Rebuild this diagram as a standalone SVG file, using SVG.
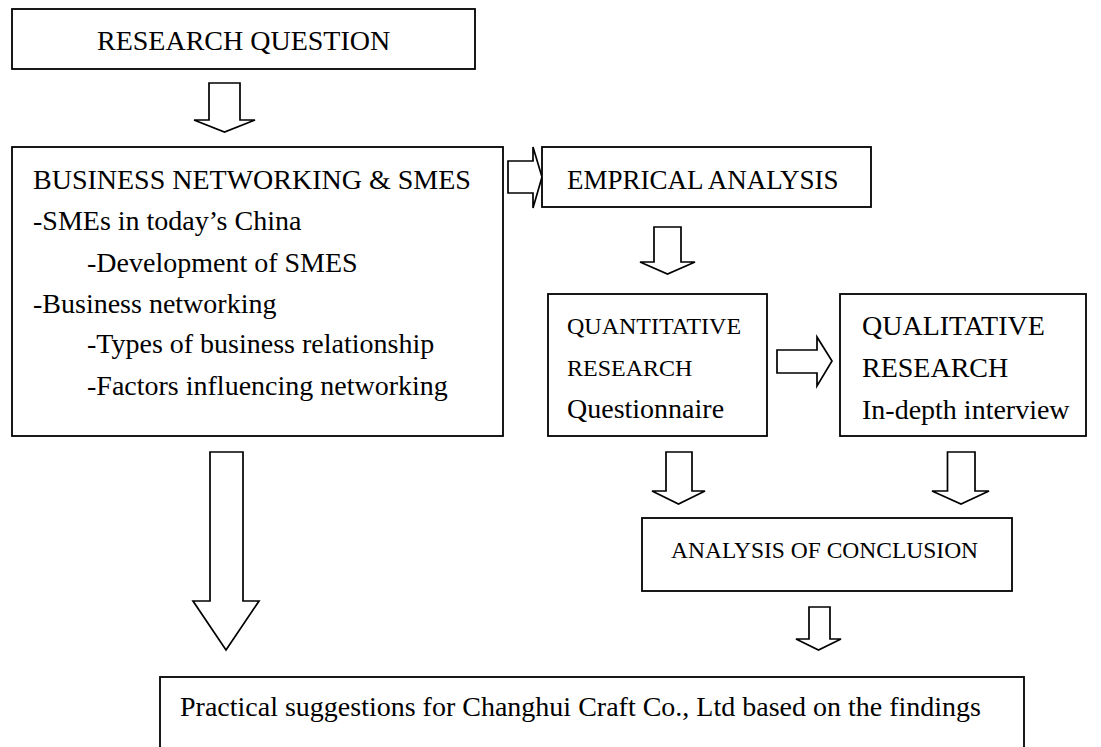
<svg xmlns="http://www.w3.org/2000/svg" width="1101" height="747" viewBox="0 0 1101 747">
<style>
.box{fill:#fff;stroke:#000;stroke-width:1.8}
.arr{fill:#fff;stroke:#000;stroke-width:1.7;stroke-linejoin:miter}
text{font-family:"Liberation Serif","Times New Roman",serif;fill:#000;font-size:28px}
.s24{font-size:24px}
.s23{font-size:23.5px}
.s27{font-size:27px}
</style>
<rect width="1101" height="747" fill="#fff"/>
<g id="connectors">
<polygon class="arr" points="209,83 240,83 240,120 255,120 224.5,132 194,120 209,120"/>
<polygon class="arr" points="508,161 533,161 533,147 542,177 533,208 533,193 508,193"/>
<polygon class="arr" points="654,227 681,227 681,262 695,262 667.5,274 640,262 654,262"/>
<polygon class="arr" points="777,350 817,350 817,337 832,361 817,386 817,373 777,373"/>
<polygon class="arr" points="210,452 243,452 243,601 259,601 226,650 193,601 210,601"/>
<polygon class="arr" points="666,452 692,452 692,491 705,491 678.5,504 652,491 666,491"/>
<polygon class="arr" points="947.5,452 975,452 975,491 989,491 961,504 932,491 947.5,491"/>
<polygon class="arr" points="809,607 830,607 830,639 841,639 818.5,650 796,639 809,639"/>
</g>
<g id="research-question">
<rect class="box" x="12" y="9" width="463" height="60"/>
<text x="97" y="50">RESEARCH QUESTION</text>
</g>
<g id="business-networking">
<rect class="box" x="12" y="147" width="491" height="289"/>
<text x="33" y="189">BUSINESS NETWORKING &amp; SMES</text>
<text x="33" y="230">-SMEs in today’s China</text>
<text x="87" y="272">-Development of SMES</text>
<text x="33" y="313">-Business networking</text>
<text x="87" y="353">-Types of business relationship</text>
<text x="87" y="395">-Factors influencing networking</text>
</g>
<g id="empirical-analysis">
<rect class="box" x="542" y="147" width="329" height="60"/>
<text class="s27" x="567" y="189">EMPRICAL ANALYSIS</text>
</g>
<g id="quantitative">
<rect class="box" x="548" y="294" width="219" height="142"/>
<text class="s24" x="567" y="334">QUANTITATIVE</text>
<text class="s24" x="567" y="376">RESEARCH</text>
<text x="567" y="418">Questionnaire</text>
</g>
<g id="qualitative">
<rect class="box" x="840" y="294" width="246" height="142"/>
<text x="862" y="335">QUALITATIVE</text>
<text x="862" y="377">RESEARCH</text>
<text x="862" y="419">In-depth interview</text>
</g>
<g id="analysis-conclusion">
<rect class="box" x="642" y="518" width="370" height="73"/>
<text class="s23" x="671" y="558">ANALYSIS OF CONCLUSION</text>
</g>
<g id="practical-suggestions">
<rect class="box" x="160" y="677" width="864" height="90"/>
<text x="180" y="716">Practical suggestions for Changhui Craft Co., Ltd based on the findings</text>
</g>
</svg>
